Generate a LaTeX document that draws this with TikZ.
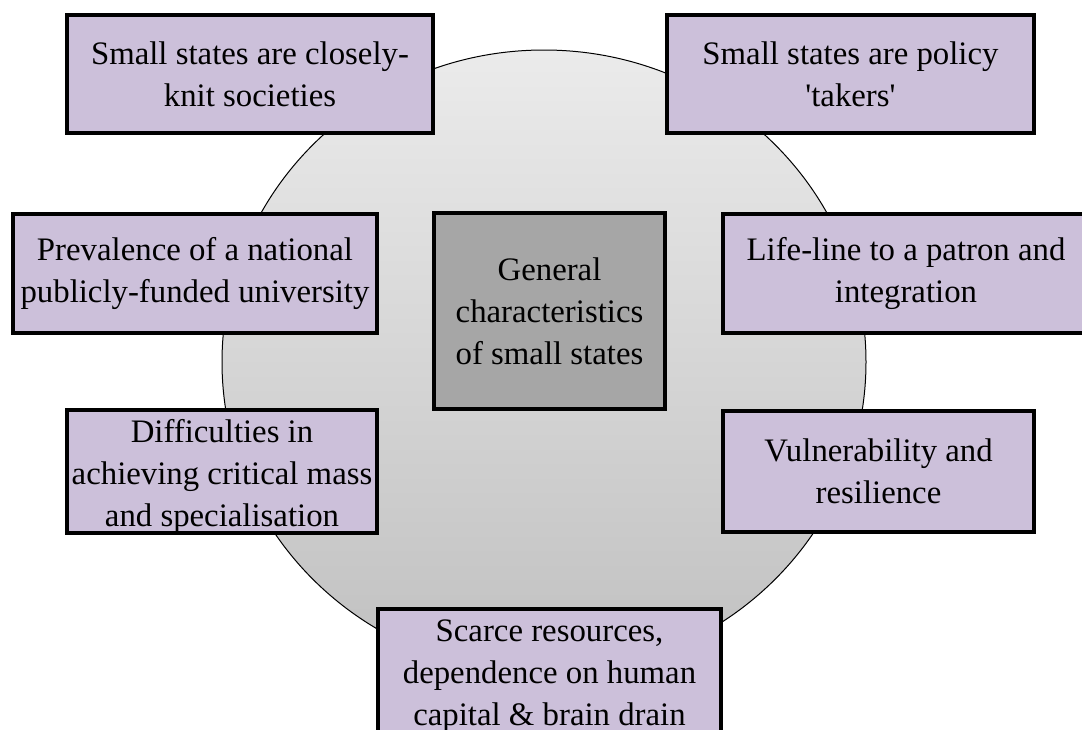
\documentclass[tikz,border=0pt]{standalone}
\usepackage{fontspec}
\setmainfont{Liberation Serif}
\usetikzlibrary{shapes.geometric}
\definecolor{boxfill}{HTML}{CCC0DA}
\definecolor{hubfill}{HTML}{A6A6A6}
\definecolor{disctop}{HTML}{EBEBEB}
\definecolor{discbottom}{HTML}{C0C0C0}
\begin{document}
\begin{tikzpicture}[x=1pt,y=-1pt,
  disc/.style={ellipse, draw=black, line width=1pt, top color=disctop, bottom color=discbottom,
    inner sep=0pt, outer sep=0pt},
  trait/.style={draw=black, line width=4pt, fill=boxfill, inner sep=0pt, outer sep=0pt,
    align=center, font=\fontsize{32.8}{42}\selectfont},
  hub/.style={trait, fill=hubfill}]
\useasboundingbox (0,0) rectangle (1082,729);
\clip (0,0) rectangle (1082,729);
\fill[white] (0,0) rectangle (1082,729);

% background disc
\node[disc, minimum width=644pt, minimum height=624pt] (backdrop) at (544,362) {};

% central topic
\node[hub, minimum width=231pt, minimum height=196pt] (core) at (549.5,311)
  {General\\characteristics\\of small states};

% surrounding characteristics
\node[trait, minimum width=366pt, minimum height=118pt] (knit) at (250,74)
  {Small states are closely-\\knit societies};
\node[trait, minimum width=367pt, minimum height=118pt] (takers) at (850.5,74)
  {Small states are policy\\\textquotesingle takers\textquotesingle};
\node[trait, minimum width=364pt, minimum height=119pt] (univ) at (195,273.5)
  {Prevalence of a national\\publicly-funded university};
\node[trait, minimum width=366pt, minimum height=119pt] (patron) at (906,273.5)
  {Life-line to a patron and\\integration};
\node[trait, minimum width=310pt, minimum height=121pt] (mass) at (222,471.5)
  {\rule{0pt}{32pt}Difficulties in\\achieving critical mass\\and specialisation};
\node[trait, minimum width=311pt, minimum height=121pt] (resil) at (878.5,471.5)
  {Vulnerability and\\resilience};
\node[trait, minimum width=343pt, minimum height=134pt] (scarce) at (549.5,676)
  {Scarce resources,\\dependence on human\\capital \& brain drain};
\end{tikzpicture}
\end{document}
